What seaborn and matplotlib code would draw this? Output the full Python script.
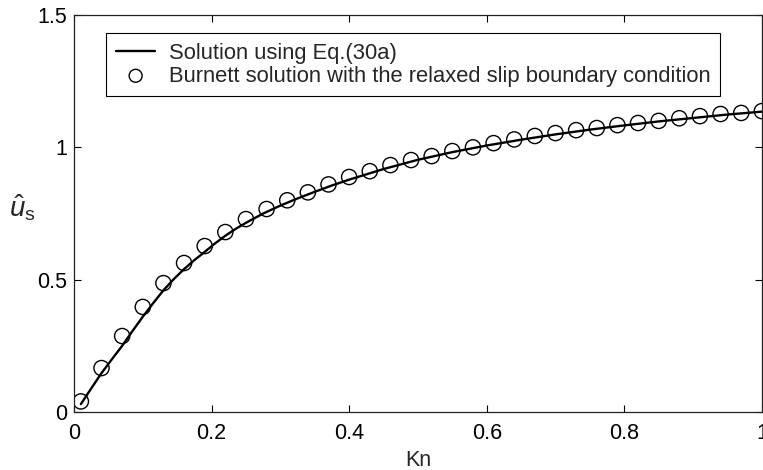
import numpy as np
import pandas as pd
import matplotlib
matplotlib.use("Agg")
import matplotlib.pyplot as plt
import seaborn as sns

# Burnett solution (circles)
kn_burnett = [0.01, 0.04, 0.07, 0.10, 0.13, 0.16, 0.19, 0.22, 0.25, 0.28, 0.31, 0.34,
              0.37, 0.40, 0.43, 0.46, 0.49, 0.52, 0.55, 0.58, 0.61, 0.64, 0.67, 0.70,
              0.73, 0.76, 0.79, 0.82, 0.85, 0.88, 0.91, 0.94, 0.97, 1.00]
us_burnett = [0.040, 0.166, 0.287, 0.397, 0.487, 0.563, 0.627, 0.680, 0.729, 0.767, 0.800, 0.830,
              0.860, 0.888, 0.910, 0.933, 0.952, 0.967, 0.986, 1.000, 1.016, 1.030, 1.043, 1.054,
              1.065, 1.073, 1.084, 1.092, 1.100, 1.110, 1.118, 1.126, 1.130, 1.137]

# Solution using Eq.(30a) (line)
kn_line = [0.01, 0.025, 0.04, 0.055, 0.07, 0.085, 0.10, 0.115, 0.13, 0.145, 0.16, 0.175, 0.19,
           0.205, 0.22, 0.235, 0.25, 0.275, 0.30, 0.325, 0.35, 0.375, 0.40, 0.45, 0.50, 0.55,
           0.60, 0.65, 0.70, 0.75, 0.80, 0.85, 0.90, 0.95, 1.00]
us_line = [0.030, 0.089, 0.147, 0.199, 0.250, 0.306, 0.360, 0.411, 0.460, 0.502, 0.540, 0.574, 0.605,
           0.637, 0.666, 0.692, 0.715, 0.750, 0.780, 0.807, 0.832, 0.856, 0.878, 0.918, 0.953, 0.982,
           1.007, 1.029, 1.049, 1.067, 1.083, 1.098, 1.111, 1.124, 1.135]

x_ticks = [0, 0.2, 0.4, 0.6, 0.8, 1]
x_ticklabels = ["0", "0.2", "0.4", "0.6", "0.8", "1"]
y_ticks = [0, 0.5, 1, 1.5]
y_ticklabels = ["0", "0.5", "1", "1.5"]

sns.set_style("ticks")
plt.rcParams['font.family'] = ['Liberation Sans', 'DejaVu Sans']
plt.rcParams['mathtext.fontset'] = 'custom'
plt.rcParams['mathtext.rm'] = 'Liberation Sans'
plt.rcParams['mathtext.it'] = 'Liberation Sans:italic'

fig = plt.figure(figsize=(7.63, 4.70), dpi=100)
ax = fig.add_axes([0.097, 0.1234, 0.9015, 0.8446])

df_line = pd.DataFrame({"Kn": kn_line, "us": us_line})
df_b = pd.DataFrame({"Kn": kn_burnett, "us": us_burnett})

sns.lineplot(data=df_line, x="Kn", y="us", ax=ax, color="black", linewidth=1.7,
             label="Solution using Eq.(30a)")
sns.scatterplot(data=df_b, x="Kn", y="us", ax=ax, marker="o", s=120,
                facecolor="none", edgecolor="black", linewidth=1.0,
                label="Burnett solution with the relaxed slip boundary condition")

ax.set_xlim(0, 1)
ax.set_ylim(0, 1.5)
ax.set_xticks(x_ticks)
ax.set_xticklabels(x_ticklabels)
ax.set_yticks(y_ticks)
ax.set_yticklabels(y_ticklabels)
ax.tick_params(direction="in", length=5, width=0.8, top=True, right=True,
               labelsize=15.5, colors="black")
ax.tick_params(axis="x", pad=8)
ax.tick_params(axis="y", pad=5)
for sp in ax.spines.values():
    sp.set_visible(True)
    sp.set_linewidth(0.9)
    sp.set_color("#222222")

ax.set_xlabel("Kn", fontsize=15.5)
ax.xaxis.set_label_coords(0.5, -0.095)
ax.set_ylabel(r"$\hat{u}_{\mathrm{s}}$", fontsize=20, rotation=0, va="center", ha="center")
ax.yaxis.set_label_coords(-0.075, 0.515)

leg = ax.legend(loc="upper left", bbox_to_anchor=(0.0465, 0.955), fontsize=15.8,
                frameon=True, fancybox=False, edgecolor="black", framealpha=1,
                handlelength=1.8, borderpad=0.45, labelspacing=0.08, handletextpad=0.6,
                markerscale=0.85, borderaxespad=0)
leg.get_frame().set_linewidth(0.8)

fig.savefig("out.png", dpi=100)
